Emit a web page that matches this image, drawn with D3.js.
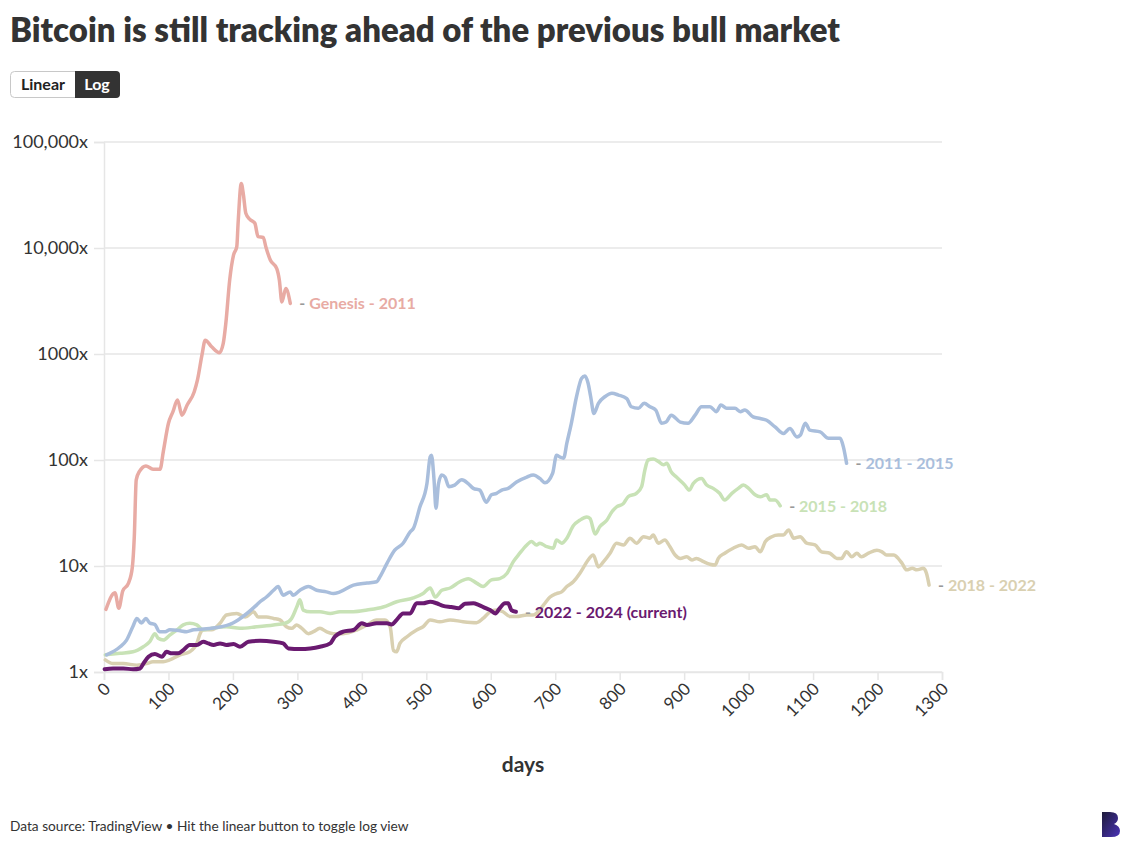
<!DOCTYPE html>
<html>
<head>
<meta charset="utf-8">
<script src="https://cdn.jsdelivr.net/npm/d3@7"></script>
<style>
  html, body { margin: 0; padding: 0; background: #fff; }
  svg { display: block; font-family: Lato, "Open Sans", sans-serif; }
</style>
</head>
<body>
<svg id="chart" width="1136" height="853"></svg>
<script>
// ---------- DATA ----------
const seriesNames = ["Genesis - 2011", "2011 - 2015", "2015 - 2018", "2018 - 2022", "2022 - 2024 (current)"];
const seriesColors = ["#e8aba4", "#a9bedc", "#c8e2b6", "#d9d0b1", "#6a1a70"];

const genesisDays = [3,17,23,29,38,44,47,50,55,65,76,87,92,100,107,114,121,129,140,145,152,157,167,179,185,189,195,201,206,208,213,216,220,226,234,239,247,251,258,268,272,276,282,289];
const genesisValues = [3.9,5.6,4.0,5.8,6.9,9.8,18.9,65,78,88,82,82,120,222,286,368,265,330,441,569,980,1350,1170,1030,1260,1950,5000,8600,10300,17000,40700,32800,21300,18700,17100,12800,12600,10300,7700,6400,5000,3100,4150,3000];

const s2011Days = [4,25,35,45,51,58,65,71,79,86,95,102,118,128,139,170,200,208,237,242,252,263,270,278,289,293,304,317,330,345,356,366,387,408,423,428,439,451,464,475,480,490,501,506,508,512,515,519,524,529,535,544,555,565,573,583,593,601,609,617,627,640,656,666,676,684,696,702,707,713,718,725,733,741,746,751,755,760,767,777,788,798,811,818,829,838,847,856,865,872,880,894,906,917,927,940,950,957,966,979,987,994,1007,1018,1028,1041,1054,1064,1075,1080,1088,1095,1111,1124,1142,1147,1152];
const s2011Values = [1.45,1.73,2.0,2.7,3.2,2.9,3.2,2.9,2.8,2.4,2.4,2.5,2.45,2.4,2.5,2.6,2.9,3.1,4.3,4.6,5.1,5.9,6.4,5.3,5.7,5.3,5.9,6.4,5.9,5.7,5.5,5.7,6.6,6.9,7.1,7.9,10.6,14.1,16.4,21,22.6,36,60,107,111,65,35,60,72,69,56,58,65,60,54,52,40,47,48.5,52,54,62,69,72,67,61,75,111,107,104,144,222,395,590,620,530,395,275,343,395,426,410,380,318,307,343,318,296,222,228,265,228,222,265,318,318,286,330,307,307,286,296,255,246,237,205,178,198,165,171,222,191,184,160,160,133,93];

const s2015Days = [2,25,45,61,71,79,84,92,102,113,123,133,144,154,170,190,211,237,263,281,291,299,304,309,320,335,351,366,387,408,433,454,480,495,506,514,524,537,552,565,578,588,601,614,625,635,645,656,663,671,676,687,697,702,710,718,728,738,749,754,762,769,780,788,795,806,813,826,834,839,844,852,860,868,873,880,888,901,908,914,927,935,945,955,963,974,984,992,1000,1010,1018,1028,1033,1041,1049];
const s2015Values = [1.45,1.5,1.55,1.73,1.93,2.3,2.08,2.0,2.23,2.49,2.78,2.88,2.78,2.49,2.6,2.67,2.58,2.67,2.78,2.88,3.2,4.1,4.8,3.84,3.7,3.7,3.57,3.7,3.7,3.84,4.1,4.6,5.0,5.5,6.2,5.1,5.9,6.2,7.1,7.6,6.9,6.4,7.4,7.6,8.5,11,13.2,15.8,17,15.8,16.4,15.2,14.7,17.6,16.4,18.3,24,27,29,28,20,23.5,27,32.5,36,39,45,48.5,56,80,100,102,97,90,93,77,69,58,52,60,67,58,54,48.5,42,48.5,54,58,54,47,45,47,42,42,37];

const s2018Days = [2,14,30,51,66,76,92,102,118,133,144,149,154,167,180,190,206,219,232,239,252,263,273,283,291,299,307,317,325,335,345,356,371,392,408,423,436,444,449,454,459,470,485,495,506,521,537,557,578,588,599,609,619,630,640,656,666,682,692,702,710,718,728,738,746,751,759,767,775,785,795,806,816,826,837,847,852,860,870,878,886,894,904,912,919,930,940,948,953,963,976,989,1000,1010,1018,1026,1036,1046,1054,1062,1070,1080,1090,1103,1113,1126,1137,1144,1152,1160,1168,1175,1186,1199,1207,1214,1225,1232,1238,1245,1254,1261,1271,1276,1280];
const s2018Values = [1.3,1.2,1.2,1.16,1.2,1.25,1.25,1.3,1.45,1.55,1.86,2.3,2.5,2.5,2.88,3.45,3.57,3.3,3.7,3.3,3.3,3.2,3.1,2.67,2.58,2.78,2.58,2.3,2.4,2.58,2.4,2.3,2.3,2.49,2.78,3.1,3.1,2.67,1.6,1.55,1.86,2.15,2.49,2.67,3.1,2.98,3.1,2.98,2.92,3.2,3.7,3.84,3.7,3.33,3.33,3.45,3.45,4.3,5.1,5.5,5.7,6.4,7.1,8.5,10.2,11.4,12.7,9.8,11,13.2,16.4,15.8,18.3,16.4,18.9,18.3,19.6,16.4,17.6,15.2,12.7,11.8,12.2,11.4,11.8,11,10.4,10.2,11.8,13.2,14.7,15.8,14.7,15.2,13.6,17,18.9,19.6,19.6,21.9,18.3,18.9,16.4,15.8,13.6,13.2,11.8,11.8,13.6,12.2,13.2,12.2,13.2,14.1,13.6,12.7,12.7,11.8,10.6,9.2,9.5,9.2,9.5,8.5,6.6];

const s2022Days = [1,14,30,45,56,61,69,79,90,97,105,115,123,133,144,154,162,170,180,190,201,211,224,242,263,278,286,304,320,335,351,358,371,387,400,408,423,439,446,454,464,475,485,495,506,516,526,539,550,560,573,581,592,599,607,614,622,627,632,639];
const s2022Values = [1.06,1.08,1.08,1.06,1.08,1.2,1.39,1.48,1.39,1.55,1.5,1.5,1.61,1.8,1.8,1.93,1.86,1.8,1.86,1.8,1.84,1.73,1.93,1.97,1.93,1.86,1.67,1.65,1.67,1.73,1.86,2.15,2.4,2.49,2.88,2.78,2.88,2.88,2.8,3.1,3.57,3.57,4.45,4.45,4.6,4.45,4.2,4.1,4.0,4.4,4.45,4.3,4.0,3.84,3.57,4.0,4.45,4.45,3.84,3.7];

const yTickValues = [1, 10, 100, 1000, 10000, 100000];
const yTickLabels = ["1x", "10x", "100x", "1000x", "10,000x", "100,000x"];
const xTickValues = [0,100,200,300,400,500,600,700,800,900,1000,1100,1200,1300];

const titleText = "Bitcoin is still tracking ahead of the previous bull market";
const footerText = "Data source: TradingView \u2022 Hit the linear button to toggle log view";
const xAxisTitle = "days";
const buttonLabels = ["Linear", "Log"];

// ---------- BUILD ----------
const allDays = [genesisDays, s2011Days, s2015Days, s2018Days, s2022Days];
const allValues = [genesisValues, s2011Values, s2015Values, s2018Values, s2022Values];
const series = seriesNames.map((name, i) => ({
  name, color: seriesColors[i],
  points: allDays[i].map((d, j) => ({ day: d, value: allValues[i][j] }))
}));

const svg = d3.select("#chart");
const margin = { left: 104, right: 1136 - 942, top: 142, bottom: 853 - 672 };
const W = 1136, H = 853;

const x = d3.scaleLinear().domain([0, 1300]).range([margin.left, W - margin.right]);
const y = d3.scaleLog().domain([1, 100000]).range([H - margin.bottom, margin.top]);

// Title
svg.append("text")
  .attr("x", 10).attr("y", 42)
  .attr("font-size", 33).attr("font-weight", 800).attr("fill", "#333")
  .attr("textLength", 830).attr("lengthAdjust", "spacingAndGlyphs")
  .text(titleText);

// Buttons
const btn = svg.append("g").attr("transform", "translate(10,71)");
btn.append("rect").attr("x", 0.5).attr("y", 0.5).attr("width", 109).attr("height", 26)
  .attr("rx", 4).attr("fill", "#fff").attr("stroke", "#c8c8c8");
btn.append("path")
  .attr("d", "M65,0 H106 A4,4 0 0 1 110,4 V23 A4,4 0 0 1 106,27 H65 Z")
  .attr("fill", "#333");
btn.append("text").attr("x", 33).attr("y", 19).attr("text-anchor", "middle")
  .attr("font-size", 16).attr("font-weight", 700).attr("fill", "#222").text(buttonLabels[0]);
btn.append("text").attr("x", 87).attr("y", 19).attr("text-anchor", "middle")
  .attr("font-size", 16).attr("font-weight", 700).attr("fill", "#fff").text(buttonLabels[1]);

// Grid lines
const grid = svg.append("g");
grid.selectAll("line").data(yTickValues).join("line")
  .attr("x1", margin.left).attr("x2", W - margin.right)
  .attr("y1", d => y(d)).attr("y2", d => y(d))
  .attr("stroke", "#e6e6e6").attr("stroke-width", 1.5);

// Y axis
const yAxis = svg.append("g").attr("transform", `translate(${margin.left},0)`)
  .call(d3.axisLeft(y).tickValues(yTickValues).tickFormat((d, i) => yTickLabels[i]).tickSize(10).tickPadding(6));
yAxis.select(".domain").attr("stroke", "#e6e6e6").attr("stroke-width", 1.5);
yAxis.selectAll(".tick line").attr("stroke", "#e6e6e6").attr("stroke-width", 1.5);
yAxis.selectAll(".tick text").attr("font-size", 18).attr("fill", "#333").attr("font-family", "Lato, sans-serif");

// X axis
const xAxis = svg.append("g").attr("transform", `translate(0,${H - margin.bottom})`)
  .call(d3.axisBottom(x).tickValues(xTickValues).tickFormat(d3.format("d")).tickSize(8));
xAxis.select(".domain").attr("stroke", "#e6e6e6").attr("stroke-width", 1.5);
xAxis.selectAll(".tick line").attr("stroke", "#e6e6e6").attr("stroke-width", 1.5);
xAxis.selectAll(".tick text")
  .attr("font-size", 17).attr("fill", "#333").attr("font-family", "Lato, sans-serif")
  .attr("text-anchor", "end").attr("dy", null).attr("y", 0)
  .attr("transform", "translate(7,18) rotate(-45)");

// X axis title
svg.append("text").attr("x", (x(0) + x(1300)) / 2).attr("y", 772)
  .attr("text-anchor", "middle").attr("font-size", 21).attr("font-weight", 700).attr("fill", "#333")
  .text(xAxisTitle);

// Lines
const line = d3.line().x(d => x(d.day)).y(d => y(d.value)).curve(d3.curveMonotoneX);
const drawOrder = [3, 2, 1, 0, 4];
svg.append("g").selectAll("path").data(drawOrder.map(i => series[i])).join("path")
  .attr("d", d => line(d.points))
  .attr("fill", "none")
  .attr("stroke", d => d.color)
  .attr("stroke-width", d => d.name.includes("current") ? 4 : 3.5)
  .attr("stroke-linejoin", "round").attr("stroke-linecap", "round");

// End labels
const labels = svg.append("g").selectAll("text").data(series).join("text")
  .attr("x", d => x(d.points[d.points.length - 1].day) + 9)
  .attr("y", d => y(d.points[d.points.length - 1].value) + 6)
  .attr("font-size", 16).attr("font-weight", 700);
labels.append("tspan").attr("fill", "#999").text("- ");
labels.append("tspan").attr("fill", d => d.color).text(d => d.name);

// Footer
svg.append("text").attr("x", 10).attr("y", 831)
  .attr("font-size", 13.7).attr("fill", "#333").text(footerText);

// Logo
const defs = svg.append("defs");
const grad = defs.append("linearGradient").attr("id", "logoGrad")
  .attr("x1", "0").attr("y1", "0").attr("x2", "1").attr("y2", "1");
grad.append("stop").attr("offset", "0%").attr("stop-color", "#1e1b3a");
grad.append("stop").attr("offset", "100%").attr("stop-color", "#4a33b8");
svg.append("path")
  .attr("d", "M1102,812 H1110 Q1118,812 1118,818 Q1118,822 1114,824 Q1120,826 1120,831 Q1120,837 1111,837 H1102 Z")
  .attr("fill", "url(#logoGrad)");
</script>
</body>
</html>
